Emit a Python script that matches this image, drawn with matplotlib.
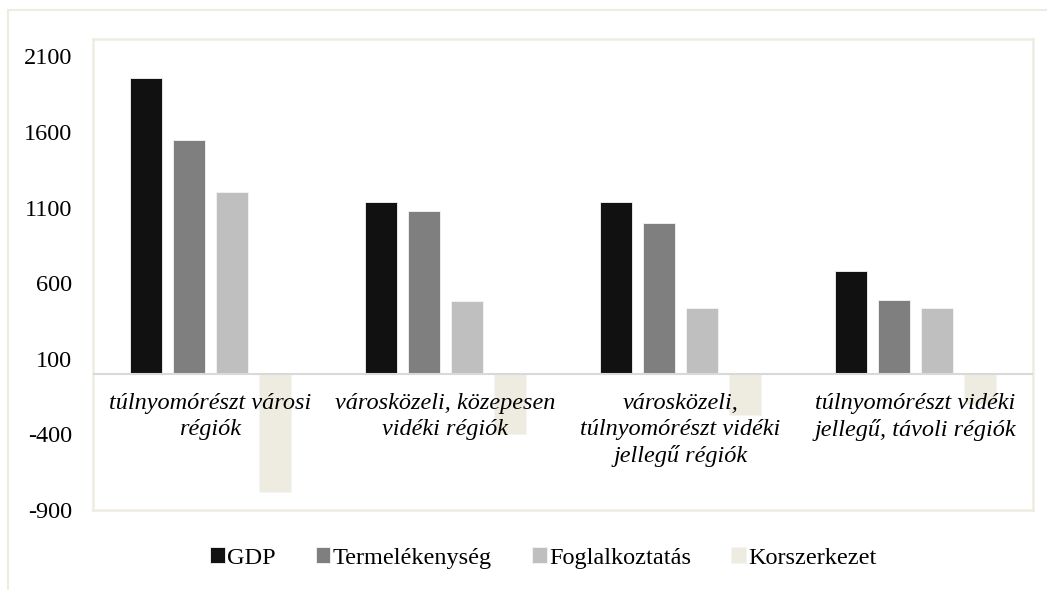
import numpy as np
import matplotlib
matplotlib.use('Agg')
import matplotlib.pyplot as plt
from matplotlib.lines import Line2D

categories = ['túlnyomórészt városi\nrégiók',
              'városközeli, közepesen\nvidéki régiók',
              'városközeli,\ntúlnyomórészt vidéki\njellegű régiók',
              'túlnyomórészt vidéki\njellegű, távoli régiók']
series = ['GDP', 'Termelékenység', 'Foglalkoztatás', 'Korszerkezet']
gdp = [1960, 1140, 1135, 680]
termelekenyseg = [1550, 1075, 995, 487]
foglalkoztatas = [1205, 484, 434, 436]
korszerkezet = [-780, -400, -275, -200]
colors = ['#111111', '#7f7f7f', '#bfbfbf', '#eeece1']
yticks = [-900, -400, 100, 600, 1100, 1600, 2100]

values = [gdp, termelekenyseg, foglalkoztatas, korszerkezet]

plt.rcParams['font.family'] = ['Liberation Serif', 'DejaVu Serif']

fig = plt.figure(figsize=(10.47, 5.90), dpi=100)
ax = fig.add_axes([93 / 1047, 1 - 510 / 590, 940 / 1047, 471 / 590])

x = np.arange(len(categories))
pitch = 0.183
width = 0.14
for i, (name, vals, c) in enumerate(zip(series, values, colors)):
    ax.bar(x + (i - 1.5) * pitch, vals, width, color=c, label=name,
           edgecolor='#f4f4f4', linewidth=0.6, zorder=2)

ax.axhline(0, color='#d9d9d9', linewidth=1.5, zorder=3)

ax.set_xlim(-0.5, 3.5)
ax.set_ylim(-900, 2215)
ax.set_yticks(yticks)
ax.set_yticklabels([str(t) for t in yticks], fontsize=17.5)
ax.tick_params(axis='y', length=0, pad=15)
ax.set_xticks([])

for s in ax.spines.values():
    s.set_color('#eeece1')
    s.set_linewidth(1.8)

for xi, lab in zip(x, categories):
    ax.text(xi, -125, lab, ha='center', va='top', fontsize=17.5, style='italic',
            linespacing=1.3, zorder=4)

leg = fig.legend(loc='center', bbox_to_anchor=(0.519, 0.054), ncol=4,
                 frameon=False, fontsize=17.5, handlelength=0.6, handleheight=0.6,
                 handletextpad=0.1, columnspacing=1.65)

# outer chart frame
fig.add_artist(Line2D([8 / 1047, 1], [1 - 10 / 590, 1 - 10 / 590],
                      transform=fig.transFigure, color='#eeece1', linewidth=1.5))
fig.add_artist(Line2D([8 / 1047, 8 / 1047], [0, 1 - 10 / 590],
                      transform=fig.transFigure, color='#eeece1', linewidth=1.5))

fig.savefig('out.png', dpi=100)
